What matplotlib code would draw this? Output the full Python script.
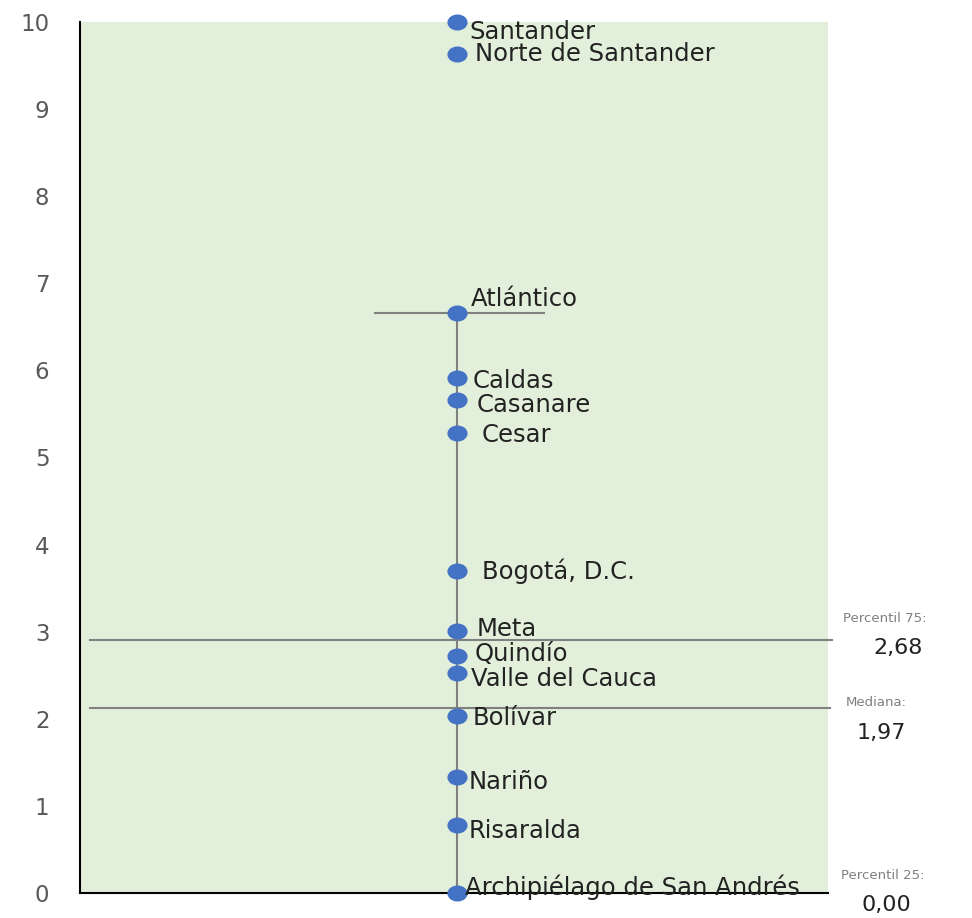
import matplotlib.pyplot as plt
from matplotlib.path import Path

# departamentos y valores
deptos = ["Santander", "Norte de Santander", "Atlántico", "Caldas", "Casanare", "Cesar",
          "Bogotá, D.C.", "Meta", "Quindío", "Valle del Cauca", "Bolívar", "Nariño",
          "Risaralda", "Archipiélago de San Andrés"]
valores = [10.0, 9.63, 6.66, 5.91, 5.66, 5.28, 3.70, 3.01, 2.72, 2.53, 2.03, 1.33, 0.78, 0.0]

bigote_sup = 6.66
p75_linea = 2.90
mediana_linea = 2.12
etiquetas_der = [("Percentil 75:", "2,68"), ("Mediana:", "1,97"), ("Percentil 25:", "0,00")]

# desplazamiento de cada etiqueta en pixeles (dx, dy)
offs = [(12, -10), (18, 0), (14, 14), (16, -3), (20, -5), (25, -2), (25, -1),
        (20, 2), (18, 2), (14, -6), (16, -2), (12, -5), (12, -6), (8, 6)]
# desplazamientos de los textos de la derecha: (titulo, valor)
offs_der = [((57, 22), (70, -8)), ((48, 6), (53, -25)), ((55, 18), (58, -12))]

azul = "#4472C4"
gris = "#808080"

# marcador eliptico (el original esta estirado a lo ancho)
circ = Path.unit_circle()
elipse = Path(circ.vertices * [1.0, 0.78], circ.codes)

fig = plt.figure(figsize=(9.72, 9.18), dpi=100)
ax = fig.add_axes([0.0823, 0.0272, 0.7695, 0.949])
ax.set_facecolor("#E2EFDA")
ax.set_xlim(0, 1)
ax.set_ylim(0, 10)
x0 = 0.504

# bigote y lineas de percentiles
ax.plot([x0, x0], [0, bigote_sup], color=gris, lw=1.5, zorder=2)
ax.plot([0.395, 0.62], [bigote_sup, bigote_sup], color=gris, lw=1.5, zorder=2)
ax.plot([0.013, 1.006], [p75_linea, p75_linea], color=gris, lw=1.5, zorder=2, clip_on=False)
ax.plot([0.013, 1.003], [mediana_linea, mediana_linea], color=gris, lw=1.5, zorder=2, clip_on=False)

ax.plot([x0] * len(valores), valores, marker=elipse, ls="none", color=azul, ms=13.5,
        zorder=3, clip_on=False)
for d, v, (dx, dy) in zip(deptos, valores, offs):
    ax.annotate(d, (x0, v), xytext=(dx, dy), textcoords="offset pixels",
                fontsize=17.5, va="center", ha="left", color="#222222", zorder=4,
                annotation_clip=False)

# textos a la derecha
ys = [p75_linea, mediana_linea, 0.0]
for (t1, t2), y, (o1, o2) in zip(etiquetas_der, ys, offs_der):
    ax.annotate(t1, (1.0, y), xytext=o1, textcoords="offset pixels",
                fontsize=9.5, color="#7f7f7f", ha="center", va="center", annotation_clip=False)
    ax.annotate(t2, (1.0, y), xytext=o2, textcoords="offset pixels",
                fontsize=16, color="#222222", ha="center", va="center", annotation_clip=False)

ax.set_yticks(range(0, 11))
ax.set_xticks([])
ax.tick_params(axis="y", length=0, pad=22, labelsize=16.5, labelcolor="#595959")
ax.spines["top"].set_visible(False)
ax.spines["right"].set_visible(False)
ax.spines["left"].set_linewidth(1.5)
ax.spines["bottom"].set_linewidth(1.5)

fig.savefig("out.png", dpi=100)
